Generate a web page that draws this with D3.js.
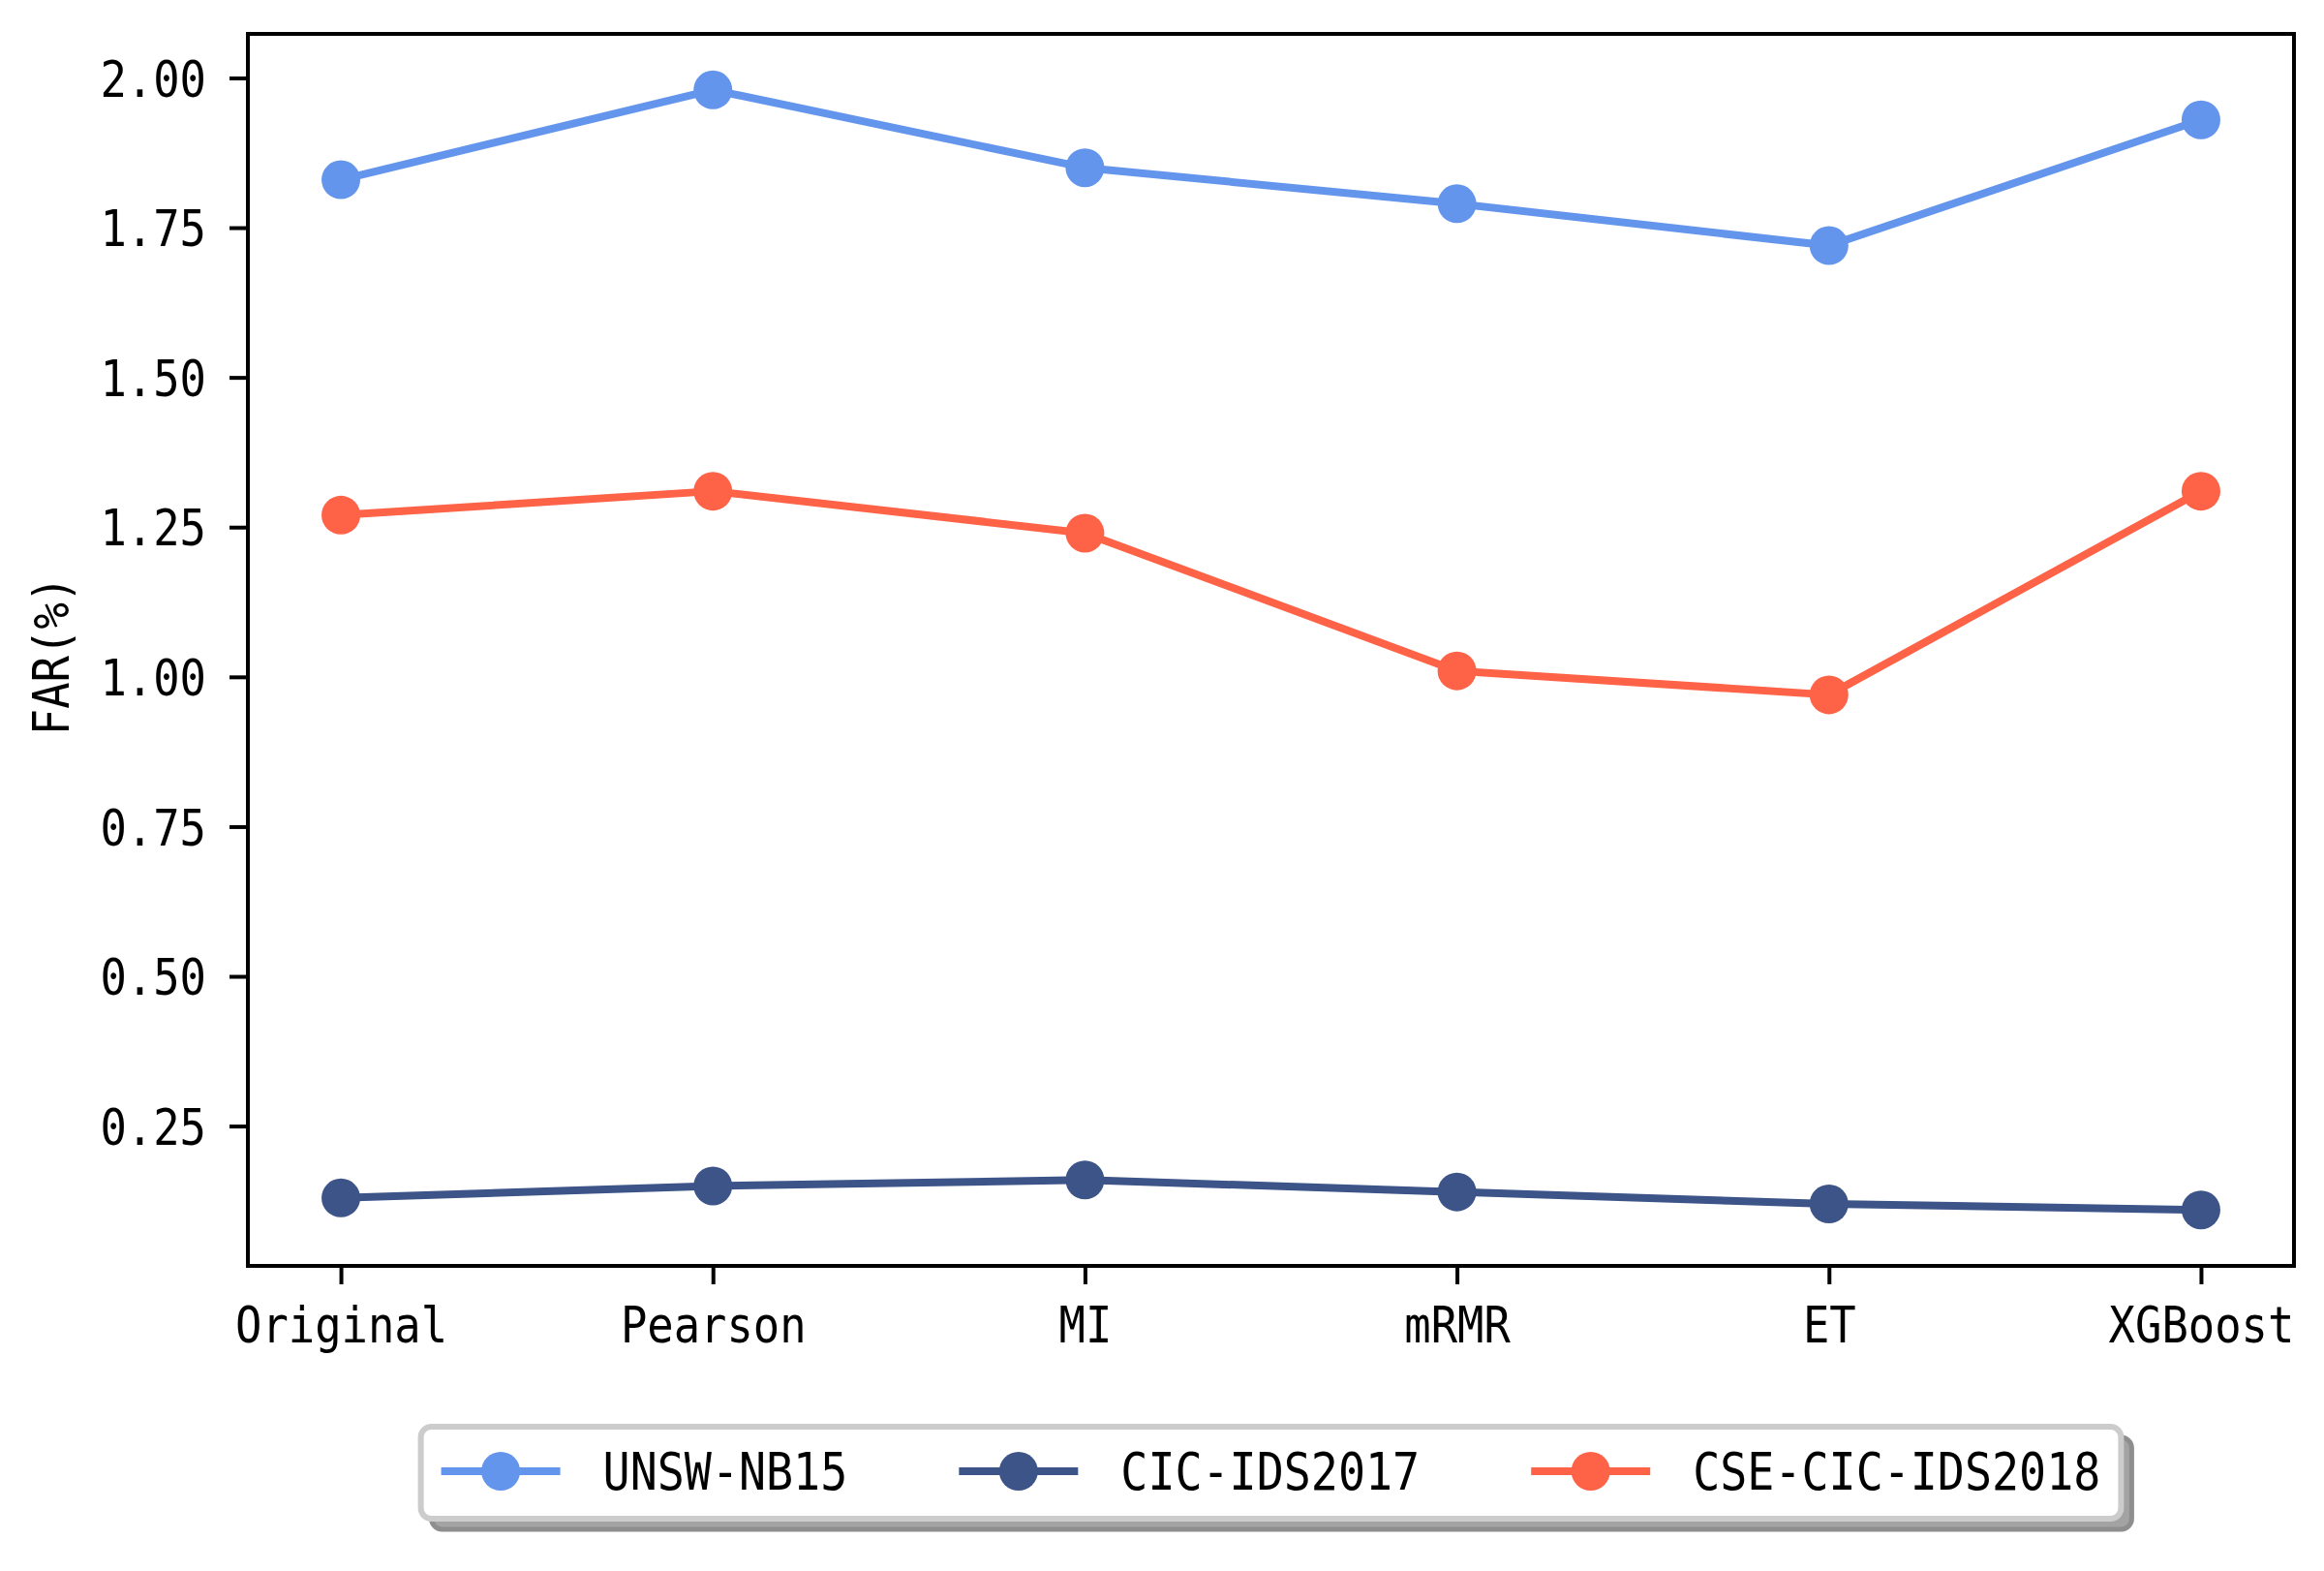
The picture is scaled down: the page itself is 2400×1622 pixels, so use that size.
<!DOCTYPE html>
<html>
<head>
<meta charset="utf-8">
<script src="https://cdn.jsdelivr.net/npm/d3@7"></script>
<style>
html,body{margin:0;padding:0;background:#fff;}
svg{display:block;}
</style>
</head>
<body>
<svg id="chart" width="2400" height="1622"></svg>
<script>
// ---- data ----
const categories = ["Original", "Pearson", "MI", "mRMR", "ET", "XGBoost"];
const unswNB15 = [1.83, 1.98, 1.85, 1.79, 1.72, 1.93];
const cicIDS2017 = [0.13, 0.15, 0.16, 0.14, 0.12, 0.11];
const cseCicIDS2018 = [1.27, 1.31, 1.24, 1.01, 0.97, 1.31];
const seriesNames = ["UNSW-NB15", "CIC-IDS2017", "CSE-CIC-IDS2018"];
const seriesColors = ["#6495ED", "#3C5488", "#FF6347"];
const yTickValues = [0.25, 0.50, 0.75, 1.00, 1.25, 1.50, 1.75, 2.00];
const yLabel = "FAR(%)";

const series = [unswNB15, cicIDS2017, cseCicIDS2018].map((v, i) => ({
  name: seriesNames[i], color: seriesColors[i], values: v
}));

// ---- layout ----
const W = 2400, H = 1622;
const m = {left: 256, right: 2369, top: 35, bottom: 1307};
const FONT = "'DejaVu Sans Mono', monospace";
const FS = 52, SX = 0.875;

const svg = d3.select("#chart");
svg.append("rect").attr("width", W).attr("height", H).attr("fill", "#fff");

const allVals = series.flatMap(s => s.values);
const vmin = d3.min(allVals), vmax = d3.max(allVals);
const pad = (vmax - vmin) * 0.05;

const x = d3.scalePoint().domain(categories).range([m.left, m.right]).padding(0.25);
const y = d3.scaleLinear().domain([vmin - pad, vmax + pad]).range([m.bottom, m.top]);

// ---- series ----
const line = d3.line().x((d, i) => x(categories[i])).y(d => y(d));
series.forEach(s => {
  const g = svg.append("g");
  g.append("path").datum(s.values)
    .attr("d", line).attr("fill", "none")
    .attr("stroke", s.color).attr("stroke-width", 8)
    .attr("stroke-linejoin", "round");
  g.selectAll("circle").data(s.values).join("circle")
    .attr("cx", (d, i) => x(categories[i])).attr("cy", d => y(d))
    .attr("r", 20).attr("fill", s.color);
});

// ---- axes ----
const yAxis = d3.axisLeft(y).tickValues(yTickValues).tickFormat(d3.format(".2f")).tickSize(19).tickPadding(24);
const gy = svg.append("g").attr("transform", `translate(${m.left},0)`).call(yAxis);
gy.select(".domain").remove();
gy.selectAll(".tick line").attr("stroke", "#000").attr("stroke-width", 4);
gy.selectAll(".tick text")
  .attr("font-family", FONT).attr("font-size", FS).attr("fill", "#000")
  .attr("x", -43 / SX).attr("dy", "0.36em")
  .attr("transform", `scale(${SX},1)`);

const xAxis = d3.axisBottom(x).tickSize(19).tickPadding(40);
const gx = svg.append("g").attr("transform", `translate(0,${m.bottom})`).call(xAxis);
gx.select(".domain").remove();
gx.selectAll(".tick line").attr("stroke", "#000").attr("stroke-width", 4);
gx.selectAll(".tick text")
  .attr("font-family", FONT).attr("font-size", FS).attr("fill", "#000")
  .attr("y", 79).attr("dy", 0)
  .attr("transform", `scale(${SX},1)`);

// frame (spines)
svg.append("rect")
  .attr("x", m.left).attr("y", m.top)
  .attr("width", m.right - m.left).attr("height", m.bottom - m.top)
  .attr("fill", "none").attr("stroke", "#000").attr("stroke-width", 4);

// y label
svg.append("g").attr("transform", `translate(71,${(m.top + m.bottom) / 2 + 6}) rotate(-90)`)
  .append("text")
  .attr("text-anchor", "middle")
  .attr("font-family", FONT).attr("font-size", FS).attr("fill", "#000")
  .attr("transform", `scale(${SX},1)`)
  .text(yLabel);

// ---- legend ----
const LFS = 53, LSX = 0.88;
const handleLen = 123, handleGap = 44, colGap = 115, padX = 21;
const legendTop = 1473, legendBottom = 1568, rowY = 1519, baseY = 1538;
const lg = svg.append("g");
const items = [];
// measure texts
series.forEach(s => {
  const t = lg.append("text").attr("font-family", FONT).attr("font-size", LFS).text(s.name);
  const w = t.node().getComputedTextLength() * LSX;
  t.remove();
  items.push({s, w});
});
const totalW = padX * 2 + d3.sum(items, d => handleLen + handleGap + d.w) + colGap * (items.length - 1);
const cx = (m.left + m.right) / 2;
const lx0 = cx - totalW / 2;
// shadow
lg.append("rect").attr("x", lx0 + 11).attr("y", legendTop + 11)
  .attr("width", totalW).attr("height", legendBottom - legendTop)
  .attr("rx", 11).attr("fill", "#a3a3a3").attr("stroke", "#8e8e8e").attr("stroke-width", 5);
// frame
lg.append("rect").attr("x", lx0).attr("y", legendTop)
  .attr("width", totalW).attr("height", legendBottom - legendTop)
  .attr("rx", 11).attr("fill", "#fff").attr("stroke", "#cccccc").attr("stroke-width", 6);
let cur = lx0 + padX;
items.forEach(it => {
  lg.append("line").attr("x1", cur).attr("x2", cur + handleLen)
    .attr("y1", rowY).attr("y2", rowY)
    .attr("stroke", it.s.color).attr("stroke-width", 8);
  lg.append("circle").attr("cx", cur + handleLen / 2).attr("cy", rowY).attr("r", 20).attr("fill", it.s.color);
  const tx = cur + handleLen + handleGap;
  lg.append("g").attr("transform", `translate(${tx},${baseY})`)
    .append("text").attr("font-family", FONT).attr("font-size", LFS).attr("fill", "#000")
    .attr("transform", `scale(${LSX},1)`).text(it.s.name);
  cur = tx + it.w + colGap;
});
</script>
</body>
</html>
